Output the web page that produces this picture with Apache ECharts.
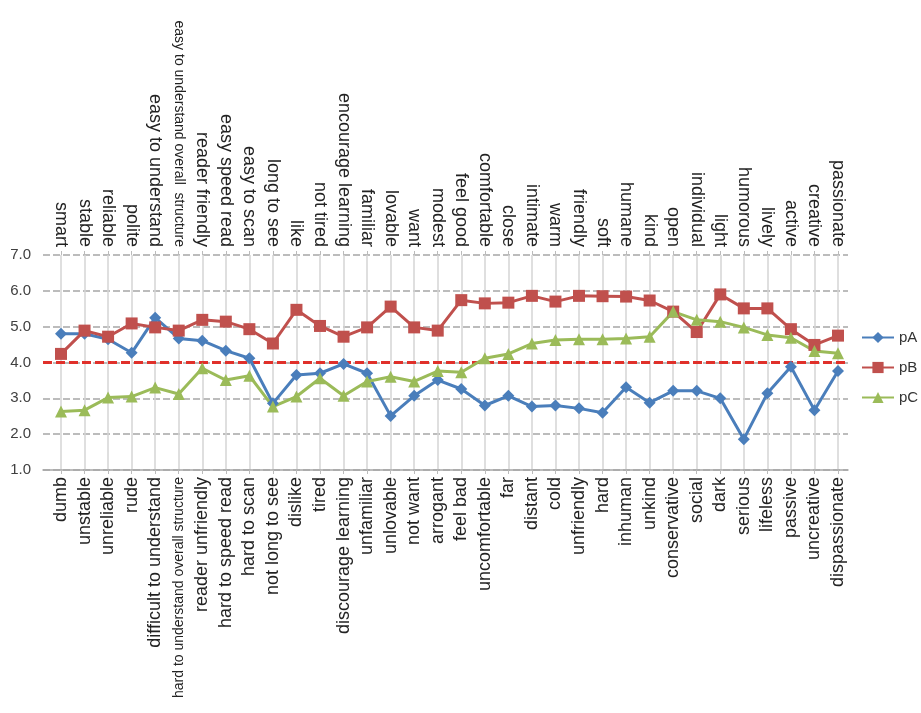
<!DOCTYPE html>
<html>
<head>
<meta charset="utf-8">
<script src="https://cdn.jsdelivr.net/npm/echarts@6/dist/echarts.min.js"></script>
<style>
  html, body { margin: 0; padding: 0; background: #fff; }
  #chart { width: 921px; height: 713px; }
</style>
</head>
<body>
<div id="chart"></div>
<script>
// negative adjectives (bottom axis)
const negLabels = ['dumb', 'unstable', 'unreliable', 'rude', 'difficult to understand',
  'hard to understand overall structure', 'reader unfriendly', 'hard to speed read', 'hard to scan',
  'not long to see', 'dislike', 'tired', 'discourage learning', 'unfamiliar', 'unlovable', 'not want',
  'arrogant', 'feel bad', 'uncomfortable', 'far', 'distant', 'cold', 'unfriendly', 'hard', 'inhuman',
  'unkind', 'conservative', 'social', 'dark', 'serious', 'lifeless', 'passive', 'uncreative', 'dispassionate'];
// positive adjectives (top axis)
const posLabels = ['smart', 'stable', 'reliable', 'polite', 'easy to understand',
  'easy to understand overall  structure', 'reader friendly', 'easy speed read', 'easy to scan',
  'long to see', 'like', 'not tired', 'encourage learning', 'familiar', 'lovable', 'want',
  'modest', 'feel good', 'comfortable', 'close', 'intimate', 'warm', 'friendly', 'soft', 'humane',
  'kind', 'open', 'individual', 'light', 'humorous', 'lively', 'active', 'creative', 'passionate'];

const pA = [4.80, 4.80, 4.65, 4.27, 5.25, 4.67, 4.61, 4.33, 4.12, 2.86, 3.65, 3.70, 3.96, 3.70, 2.51, 3.07, 3.51,
  3.26, 2.80, 3.07, 2.77, 2.80, 2.72, 2.60, 3.31, 2.88, 3.21, 3.21, 3.00, 1.86, 3.14, 3.88, 2.67, 3.76];
const pB = [4.24, 4.89, 4.72, 5.09, 4.98, 4.89, 5.19, 5.14, 4.93, 4.53, 5.47, 5.02, 4.72, 4.98, 5.56, 4.98, 4.89,
  5.74, 5.65, 5.67, 5.86, 5.70, 5.86, 5.85, 5.84, 5.73, 5.42, 4.85, 5.90, 5.51, 5.51, 4.93, 4.49, 4.75];
const pC = [2.63, 2.67, 3.02, 3.05, 3.30, 3.12, 3.84, 3.51, 3.63, 2.77, 3.05, 3.56, 3.07, 3.47, 3.60, 3.47, 3.76,
  3.73, 4.12, 4.24, 4.53, 4.63, 4.65, 4.65, 4.67, 4.72, 5.42, 5.19, 5.14, 4.98, 4.77, 4.69, 4.32, 4.26];

const yMin = 1, yMax = 7, yStep = 1;
const neutral = 4.0;

const chart = echarts.init(document.getElementById('chart'));

// long labels are squeezed to a smaller size, like in the original
const labelFmt = (v) => v.length > 30 ? '{s|' + v + '}' : v;
const labelRich = { s: { fontSize: 14, fontFamily: 'Liberation Sans, Arial', color: '#222' } };

const option = {
  backgroundColor: '#fff',
  animation: false,
  grid: [
    // background grid: y scale + horizontal lines
    { left: 43, right: 73, top: 255, height: 215 },
    // data grid: points sit on the vertical lines
    { left: 61, right: 83, top: 255, height: 215 }
  ],
  legend: {
    data: ['pA', 'pB', 'pC'],
    orient: 'vertical',
    left: 861,
    top: 330,
    padding: 0,
    itemWidth: 32,
    itemHeight: 14,
    itemGap: 15,
    textStyle: { fontSize: 15, color: '#333', fontFamily: 'Liberation Sans, Arial' }
  },
  xAxis: [
    {
      gridIndex: 0, type: 'value', min: 0, max: 1,
      axisLine: { show: true, lineStyle: { color: '#a6a6a6', width: 1.5 } },
      axisTick: { show: false }, axisLabel: { show: false }, splitLine: { show: false }
    },
    {
      gridIndex: 1, type: 'category', data: negLabels, boundaryGap: false, position: 'bottom',
      axisLine: { show: false },
      axisTick: { show: true, length: 4, lineStyle: { color: '#bbb' } },
      axisLabel: {
        interval: 0, rotate: 90, margin: 7, fontSize: 18, color: '#222',
        fontFamily: 'Liberation Sans, Arial', formatter: labelFmt, rich: labelRich
      },
      splitLine: { show: true, lineStyle: { color: '#d4d4d4', width: 1.5 } }
    },
    {
      gridIndex: 1, type: 'category', data: posLabels, boundaryGap: false, position: 'top',
      axisLine: { show: false },
      axisTick: { show: true, length: 4, lineStyle: { color: '#bbb' } },
      axisLabel: {
        interval: 0, rotate: 90, margin: 8, fontSize: 18, color: '#222',
        fontFamily: 'Liberation Sans, Arial', formatter: labelFmt, rich: labelRich
      },
      splitLine: { show: false }
    }
  ],
  yAxis: [
    {
      gridIndex: 0, type: 'value', min: yMin, max: yMax, interval: yStep,
      axisLine: { show: false }, axisTick: { show: false },
      axisLabel: {
        margin: 12, fontSize: 15, color: '#404040', fontFamily: 'Liberation Sans, Arial',
        formatter: (v) => v.toFixed(1)
      },
      splitLine: { show: true, lineStyle: { color: '#a6a6a6', width: 1.5, type: [7, 3] } }
    },
    {
      gridIndex: 1, type: 'value', min: yMin, max: yMax, interval: yStep,
      show: false, splitLine: { show: false }
    }
  ],
  series: [
    {
      name: 'neutral', type: 'line', xAxisIndex: 0, yAxisIndex: 0,
      data: [[0, neutral], [1, neutral]], symbol: 'none', silent: true,
      lineStyle: { color: '#e0302a', width: 3, type: [9, 4] }, z: 1
    },
    {
      name: 'pA', type: 'line', xAxisIndex: 1, yAxisIndex: 1, data: pA,
      symbol: 'diamond', symbolSize: 12,
      itemStyle: { color: '#4a7ebb' }, lineStyle: { color: '#4a7ebb', width: 3 }, z: 3
    },
    {
      name: 'pB', type: 'line', xAxisIndex: 1, yAxisIndex: 1, data: pB,
      symbol: 'rect', symbolSize: 12,
      itemStyle: { color: '#c0504d' }, lineStyle: { color: '#c0504d', width: 3 }, z: 3
    },
    {
      name: 'pC', type: 'line', xAxisIndex: 1, yAxisIndex: 1, data: pC,
      symbol: 'triangle', symbolSize: 12,
      itemStyle: { color: '#9bbb59' }, lineStyle: { color: '#9bbb59', width: 3 }, z: 3
    }
  ]
};

chart.setOption(option);
</script>
</body>
</html>
